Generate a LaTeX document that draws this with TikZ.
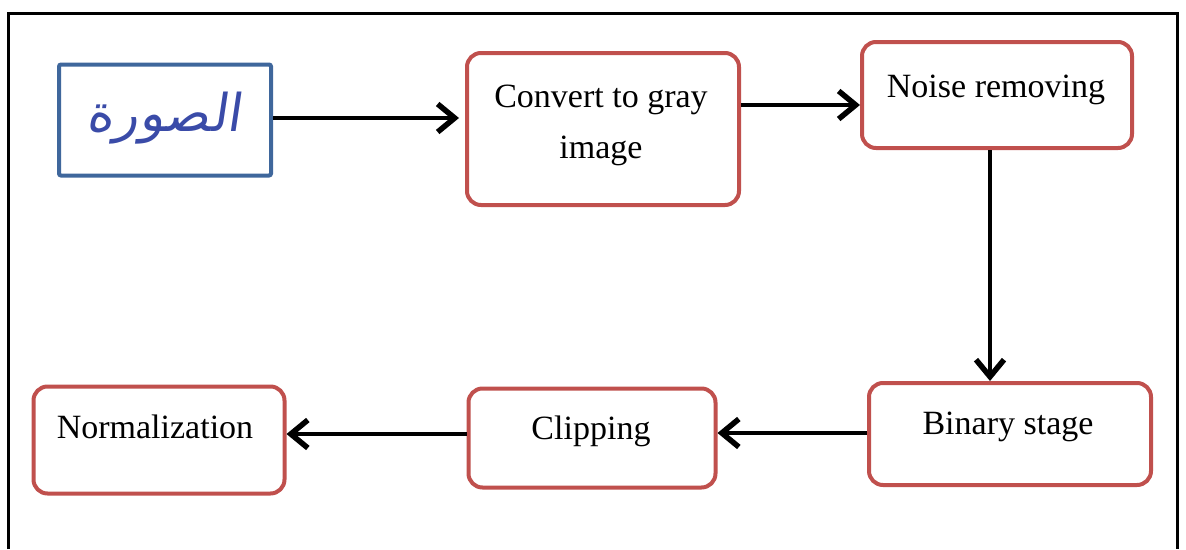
\documentclass[tikz,border=0pt]{standalone}
\usepackage{fontspec}
\setmainfont{Liberation Serif}
\newfontfamily\arabicfont[Script=Arabic]{DejaVu Sans}
\TeXXeTstate=1
\usetikzlibrary{arrows.meta}
\definecolor{boxred}{HTML}{C0504D}
\definecolor{boxblue}{HTML}{3F679C}
\definecolor{penblue}{HTML}{3A4BA8}
\tikzset{
  redbox/.style={draw=boxred, line width=4pt, rounded corners=14pt, fill=white},
  bluebox/.style={draw=boxblue, line width=4pt, rounded corners=2pt, fill=white},
  lbl/.style={anchor=base, font=\fontsize{34}{40}\selectfont, inner sep=0pt},
  flow/.style={line width=4.5pt, -{Straight Barb[length=17pt,width=28pt,line width=5.5pt]}},
}
\begin{document}
\begin{tikzpicture}[x=1pt,y=-1pt]
\useasboundingbox (0,0) rectangle (1186,549);
% outer frame
\draw[line width=3pt] (8,549) -- (8,13) -- (1177,13) -- (1177,549);
% boxes
\node[bluebox, minimum width=212pt, minimum height=111pt] (img) at (165,120) {};
\node[redbox, minimum width=272pt, minimum height=152pt] (gray) at (603,129) {};
\node[redbox, minimum width=270pt, minimum height=106pt] (noise) at (997,95) {};
\node[redbox, minimum width=282pt, minimum height=102pt] (bin) at (1010,434) {};
\node[redbox, minimum width=247pt, minimum height=99pt] (clip) at (592,438) {};
\node[redbox, minimum width=251pt, minimum height=107pt] (norm) at (159,440) {};
% texts
\node[font=\arabicfont\fontsize{52}{58}\selectfont, text=penblue, inner sep=0pt, xslant=0.15] (imgtxt) at (166,118) {\beginR الصورة\endR};
\node[lbl] (graytxt1) at (601,107) {Convert to gray};
\node[lbl] (graytxt2) at (601,158) {image};
\node[lbl] (noisetxt) at (996,97) {Noise removing};
\node[lbl] (bintxt) at (1008,434) {Binary stage};
\node[lbl] (cliptxt) at (591,439) {Clipping};
\node[lbl] (normtxt) at (155,438) {Normalization};
% connectors
\coordinate (a1) at ([xshift=-6pt]gray.west |- 0,118);
\draw[flow] (img.east |- 0,118) -- (a1);
\draw[flow] (gray.east |- 0,105) -- (noise.west |- 0,105);
\draw[flow] (noise.south -| 990,0) -- (bin.north -| 990,0);
\draw[flow] (bin.west |- 0,433) -- (clip.east |- 0,433);
\draw[flow] (clip.west |- 0,434) -- (norm.east |- 0,434);
\end{tikzpicture}
\end{document}
